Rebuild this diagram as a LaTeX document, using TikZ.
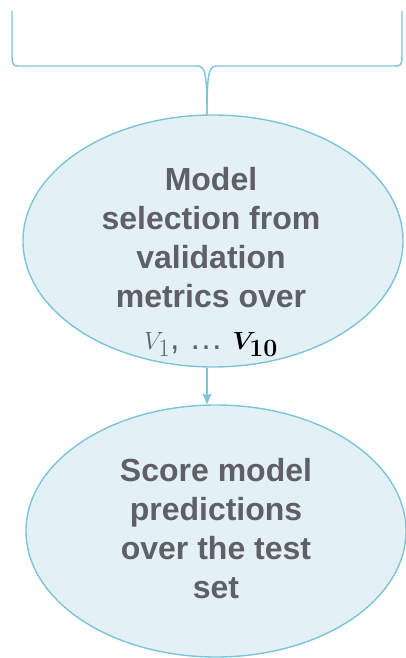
\documentclass[tikz,border=0pt]{standalone}
\usepackage{amsmath}
\usepackage{bm}
\usepackage{fontspec}
\setmainfont{Liberation Sans}
\usetikzlibrary{shapes.geometric,arrows.meta}
\definecolor{edge}{HTML}{7CC4DB}
\definecolor{fillb}{HTML}{E3F1F6}
\definecolor{txt}{HTML}{5F6065}
\tikzset{
  oval/.style={ellipse, draw=edge, line width=1.4pt, fill=fillb, minimum width=380pt, minimum height=252pt, inner sep=0pt},
  lbl/.style={align=center, inner sep=0pt, font=\fontsize{32}{39}\selectfont\bfseries, text=txt},
  bracel/.style={draw=edge, line width=1.4pt},
  arr/.style={draw=edge, line width=1.4pt, -{Stealth[length=11pt,width=9pt,inset=2pt]}}
}
\begin{document}
\begin{tikzpicture}[x=1pt,y=-1pt]
\useasboundingbox (0,0) rectangle (405,658);
\coordinate (tl) at (12,11);
\coordinate (tr) at (402,11);
\coordinate (tip) at (207,115);
\draw[bracel] (tl) -- (12,56) .. controls (12,66) and (14,66) .. (20,66) -- (197,66) .. controls (205,66) and (207,72) .. (tip);
\draw[bracel] (tr) -- (402,56) .. controls (402,66) and (400,66) .. (394,66) -- (217,66) .. controls (209,66) and (207,72) .. (tip);
\node[oval] (e1) at (213,241) {};
\node[lbl] (t1) at (211,262) {Model\\selection from\\validation\\metrics over\\[3pt]{\mdseries\fontsize{34}{39}\selectfont$\color{txt}V_1$, \ldots\ $\color{black}\bm{V}_{\bm{10}}$}};
\node[oval] (e2) at (216,531) {};
\node[lbl] (t2) at (216,529) {Score model\\predictions\\over the test\\set};
\draw[arr] (e1.south -| tip) -- (e2.north -| tip);
\end{tikzpicture}
\end{document}
